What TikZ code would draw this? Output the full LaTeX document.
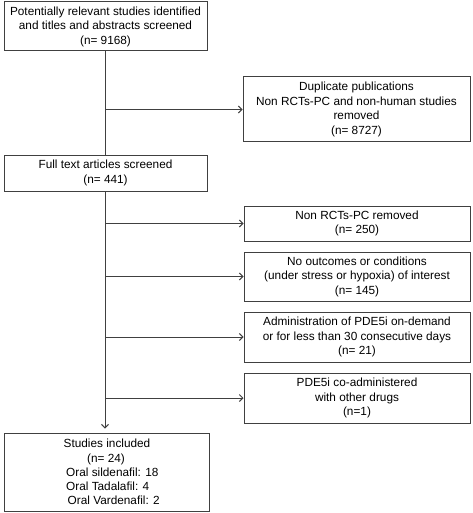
\documentclass[tikz,border=0pt]{standalone}
\usepackage{fontspec}
\setmainfont{Liberation Sans}
\usetikzlibrary{arrows.meta}
\definecolor{lc}{HTML}{404040}
\begin{document}
\begin{tikzpicture}[x=1pt,y=1pt,
  txt/.style={font=\fontsize{11.8}{14.5}\selectfont},
  box/.style={txt, draw=lc, line width=1pt, rectangle, inner sep=0pt, align=center},
  conn/.style={draw=lc, line width=1pt},
  arr/.style={conn, -{Straight Barb[length=3.5pt,width=7pt]}}]
\useasboundingbox (0,0) rectangle (472,-513);
\node[box, minimum width=203, minimum height=49] (b1) at (105.5,-26.5)
  {Potentially relevant studies identified\\and titles and abstracts screened\\(n= 9168)};
\node[box, minimum width=227, minimum height=65] (b2) at (356.5,-109.5)
  {Duplicate publications\\Non RCTs-PC and non-human studies\\removed\\(n= 8727)};
\node[box, minimum width=203, minimum height=36] (b3) at (105.5,-173)
  {Full text articles screened\\(n= 441)};
\node[box, minimum width=226, minimum height=35] (b4) at (357,-223.5)
  {Non RCTs-PC removed\\(n= 250)};
\node[box, minimum width=226, minimum height=49] (b5) at (357,-276.5)
  {No outcomes or conditions\\(under stress or hypoxia) of interest\\(n= 145)};
\node[box, minimum width=226, minimum height=50] (b6) at (357,-337)
  {Administration of PDE5i on-demand\\or for less than 30 consecutive days\\(n= 21)};
\node[box, minimum width=226, minimum height=50] (b7) at (357,-398)
  {PDE5i co-administered\\with other drugs\\(n=1)};
\node[box, minimum width=205, minimum height=78] (b8) at (106.5,-472) {};
\node[txt, inner sep=0pt, anchor=base] (t1) at (107,-447) {Studies included};
\node[txt, inner sep=0pt, anchor=base] (t2) at (106,-462) {(n= 24)};
\node[txt, inner sep=0pt, anchor=base west] (t3) at (66,-476) {Oral sildenafil: 18};
\node[txt, inner sep=0pt, anchor=base west] (t4) at (66,-490) {Oral Tadalafil: 4};
\node[txt, inner sep=0pt, anchor=base west] (t5) at (67.5,-504) {Oral Vardenafil: 2};
\coordinate (tx) at (105,0);
\draw[conn] (b1.south -| tx) -- (b3.north -| tx);
\draw[arr] (b3.south -| tx) -- ([yshift=4pt]b8.north -| tx);
\draw[arr] (b2.west -| tx) -- (b2.west);
\draw[arr] (b4.west -| tx) -- (b4.west);
\draw[arr] (b5.west -| tx) -- (b5.west);
\draw[arr] (b6.west -| tx) -- (b6.west);
\draw[arr] (b7.west -| tx) -- (b7.west);
\end{tikzpicture}
\end{document}
